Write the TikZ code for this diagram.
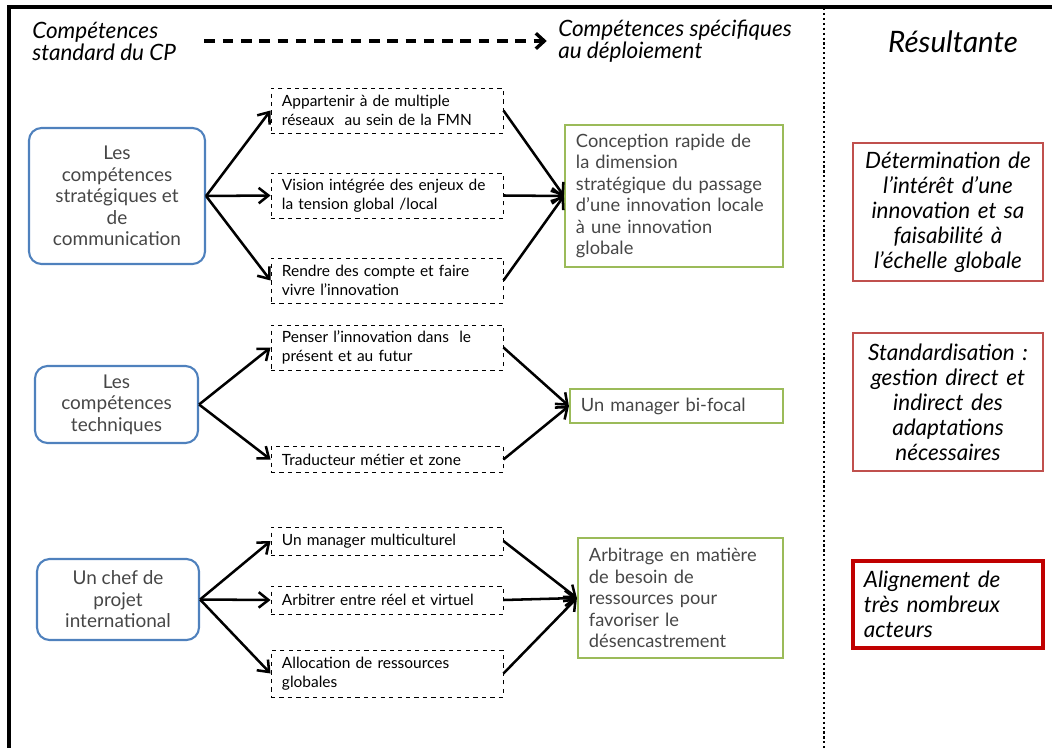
\documentclass[tikz,border=0pt]{standalone}
\usepackage{fontspec}
\setmainfont{Lato}
\usepackage{xcolor}
\definecolor{cpblue}{RGB}{79,129,189}
\definecolor{cpgreen}{RGB}{155,187,89}
\definecolor{cpred}{RGB}{192,80,77}
\definecolor{cpdarkred}{RGB}{192,0,0}
\definecolor{cpgray}{RGB}{70,70,70}
\usetikzlibrary{arrows.meta,positioning}

\begin{document}
\begin{tikzpicture}[x=0.025cm,y=-0.025cm,
  comp/.style={draw=cpblue,line width=1.5pt,rounded corners=9pt,align=center,text=cpgray,inner sep=0pt,font=\fontsize{13.5}{15.3}\selectfont},
  task/.style={draw,dashed,line width=0.6pt,minimum width=5.8cm,text width=5.25cm,inner xsep=0.275cm,inner ysep=0pt,align=left,font=\fontsize{11}{13.5}\selectfont},
  spec/.style={draw=cpgreen,line width=1.5pt,inner xsep=0.275cm,inner ysep=0pt,align=left,text=cpgray,font=\fontsize{13}{15.3}\selectfont},
  res/.style={draw=cpred,line width=1.5pt,minimum width=4.75cm,text width=4.5cm,inner ysep=0pt,align=center,font=\fontsize{16}{17.8}\selectfont\itshape},
  hdr/.style={align=left,inner sep=0pt,font=\fontsize{16}{15.6}\selectfont\itshape},
  arr/.style={-{Straight Barb[length=7pt,width=11pt]},line width=1.8pt}]
  \useasboundingbox (0,0) rectangle (1052,748);
  % frame and separator
  \draw[line width=2.2pt] (9,748) -- (9,7) -- (1052,7);
  \draw[line width=1.2pt,dash pattern=on 1.5pt off 2pt] (824,8) -- (824,748);
  % headings
  \node[hdr,anchor=west] (std) at (32,41) {Compétences\\standard du CP};
  \node[hdr,anchor=west] (depl) at (558,41) {Compétences spécifiques\\au déploiement};
  \node[font=\fontsize{21}{22}\selectfont\itshape] (result) at (953,42) {Résultante};
  \draw[-{Straight Barb[length=6pt,width=11pt]},line width=2.4pt,dash pattern=on 7.5pt off 5.5pt,shorten <=20pt,shorten >=8pt] (std.east) -- (depl.west);
  % standard skills
  \node[comp,minimum width=4.4cm,minimum height=3.4cm] (strat) at (117,196) {Les\\compétences\\stratégiques et\\de\\communication};
  \node[comp,minimum width=4.075cm,minimum height=1.925cm] (tech) at (116.5,404.5) {Les\\compétences\\techniques};
  \node[comp,minimum width=4.05cm,minimum height=2.025cm] (intl) at (118,599.5) {Un chef de\\projet\\international};
  % intermediate skills
  \node[task,minimum height=1.125cm] (reseaux) at (387,110.5) {Appartenir à de multiple\\réseaux \ au sein de la FMN};
  \node[task,minimum height=1.125cm] (vision) at (387,195.5) {Vision intégrée des enjeux de\\la tension global /local};
  \node[task,minimum height=1.125cm] (compte) at (387,280.5) {Rendre des compte et faire\\vivre l’innovation};
  \node[task,minimum height=1.125cm] (penser) at (387,347.5) {Penser l’innovation dans \ le\\présent et au futur};
  \node[task,minimum height=0.65cm] (traduc) at (387,459.5) {Traducteur métier et zone};
  \node[task,minimum height=0.7cm] (multi) at (387,541) {Un manager multiculturel};
  \node[task,minimum height=0.7cm] (arbitre) at (387,600) {Arbitrer entre réel et virtuel};
  \node[task,minimum height=1.175cm] (alloc) at (387,673.5) {Allocation de ressources\\globales};
  % deployment skills
  \node[spec,minimum width=5.45cm,text width=4.9cm,minimum height=3.55cm] (rapide) at (674,196) {Conception rapide de\\la dimension\\stratégique du passage\\d’une innovation locale\\à une innovation\\globale};
  \node[spec,minimum width=5.325cm,text width=4.775cm,minimum height=0.85cm] (bifocal) at (676.5,406) {Un manager bi-focal};
  \node[spec,minimum width=5.125cm,text width=4.575cm,minimum height=3cm] (arbitrage) at (680.5,598) {Arbitrage en matière\\de besoin de\\ressources pour\\favoriser le\\désencastrement};
  % results
  \node[res,minimum height=3.45cm] (interet) at (948,212) {Détermination de\\l’intérêt d’une\\innovation et sa\\faisabilité à\\l’échelle globale};
  \node[res,minimum height=3.45cm] (standard) at (948,402) {Standardisation :\\gestion direct et\\indirect des\\adaptations\\nécessaires};
  \node[res,draw=cpdarkred,line width=2.2pt,text width=4.2cm,align=left,minimum height=2.175cm] (alignement) at (948,604.5) {Alignement de\\très nombreux\\acteurs};
  % connectors
  \draw[arr] (strat.east) -- (reseaux.west);
  \draw[arr] (strat.east) -- (vision.west);
  \draw[arr] (strat.east) -- (compte.west);
  \draw[arr] (reseaux.east) -- (rapide.west);
  \draw[arr] (vision.east) -- (rapide.west);
  \draw[arr] (compte.east) -- (rapide.west);
  \draw[arr] (tech.east) -- (penser.west);
  \draw[arr] (tech.east) -- (traduc.west);
  \draw[arr] (penser.east) -- (bifocal.west);
  \draw[arr] (traduc.east) -- (bifocal.west);
  \draw[arr] (intl.east) -- (multi.west);
  \draw[arr] (intl.east) -- (arbitre.west);
  \draw[arr] (intl.east) -- (alloc.west);
  \draw[arr] (multi.east) -- (arbitrage.west);
  \draw[arr] (arbitre.east) -- (arbitrage.west);
  \draw[arr] (alloc.east) -- (arbitrage.west);
\end{tikzpicture}
\end{document}
